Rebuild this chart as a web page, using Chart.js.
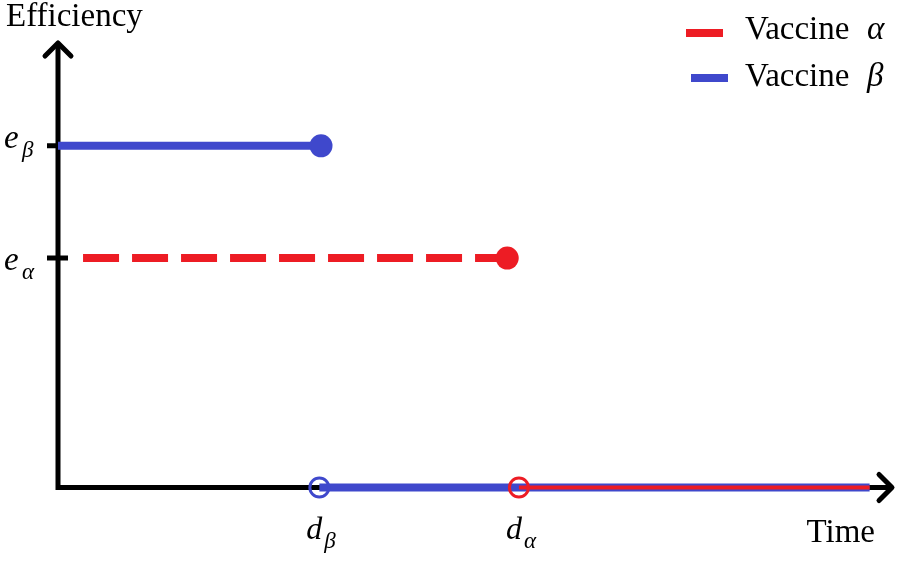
<!DOCTYPE html>
<html lang="en">
<head>
  <meta charset="UTF-8">
  <title>Vaccine efficiency over time</title>
  <script src="https://cdn.jsdelivr.net/npm/chart.js"></script>
  <style>
    body {
      margin: 0;
      background: #ffffff;
    }

    #chart-container {
      width: 910px;
      height: 562px;
    }
  </style>
</head>
<body>
  <div id="chart-container">
    <canvas id="vaccineChart"></canvas>
  </div>

  <script>
    // series names (legend)
    const seriesNames = ['Vaccine', 'Vaccine'];
    const seriesGreek = ['α', 'β'];

    // tick positions + labels, d = duration, e = efficiency
    const xTickValues = [31.3, 55.2];
    const xTickMain = ['d', 'd'];
    const xTickSub = ['β', 'α'];
    const yTickValues = [76.7, 51.5];
    const yTickMain = ['e', 'e'];
    const yTickSub = ['β', 'α'];

    // segments for each vaccine
    const alphaHigh = [{ x: 3.0, y: 51.5 }, { x: 53.8, y: 51.5 }];
    const alphaLow = [{ x: 55.2, y: 0 }, { x: 97.2, y: 0 }];
    const betaHigh = [{ x: 0, y: 76.7 }, { x: 31.5, y: 76.7 }];
    const betaLow = [{ x: 31.3, y: 0 }, { x: 97.2, y: 0 }];

    const axisTitles = ['Time', 'Efficiency'];

    const RED = '#ed1c24';
    const BLUE = '#3f48cc';
    const FONT = "'Liberation Serif', 'DejaVu Serif', serif";

    function drawSubLabel(ctx, main, sub, x, y, mainSize, subSize, subDx, subDy) {
      ctx.font = `italic ${mainSize}px ${FONT}`;
      ctx.fillText(main, x, y);
      ctx.font = `italic ${subSize}px ${FONT}`;
      ctx.fillText(sub, x + subDx, y + subDy);
    }

    const axesPlugin = {
      id: 'arrowAxes',
      beforeDatasetsDraw(chart) {
        const { ctx, chartArea } = chart;
        const x0 = chart.scales.x.getPixelForValue(0);
        const y0 = chart.scales.y.getPixelForValue(0);
        ctx.save();
        ctx.strokeStyle = '#000';
        ctx.lineWidth = 5;
        ctx.lineCap = 'butt';

        // axis lines
        ctx.beginPath();
        ctx.moveTo(x0, y0 + 2.5);
        ctx.lineTo(x0, chartArea.top + 2);
        ctx.moveTo(x0 - 2.5, y0);
        ctx.lineTo(chartArea.right - 2, y0);
        ctx.stroke();

        // arrow heads
        ctx.lineCap = 'round';
        ctx.lineJoin = 'round';
        ctx.beginPath();
        ctx.moveTo(x0 - 13, chartArea.top + 14);
        ctx.lineTo(x0, chartArea.top + 1);
        ctx.lineTo(x0 + 13, chartArea.top + 14);
        ctx.moveTo(chartArea.right - 14, y0 - 13);
        ctx.lineTo(chartArea.right - 1, y0);
        ctx.lineTo(chartArea.right - 14, y0 + 13);
        ctx.stroke();

        // y ticks
        ctx.lineCap = 'butt';
        ctx.beginPath();
        yTickValues.forEach(v => {
          const py = chart.scales.y.getPixelForValue(v);
          ctx.moveTo(x0 - 11, py);
          ctx.lineTo(x0 + 10, py);
        });
        ctx.stroke();
        ctx.restore();
      },
      afterDraw(chart) {
        const { ctx, chartArea } = chart;
        const y0 = chart.scales.y.getPixelForValue(0);
        ctx.save();
        ctx.fillStyle = '#000';
        ctx.textBaseline = 'alphabetic';
        ctx.textAlign = 'left';

        // y tick labels
        const yShift = [2, 12];
        yTickValues.forEach((v, i) => {
          const py = chart.scales.y.getPixelForValue(v);
          drawSubLabel(ctx, yTickMain[i], yTickSub[i], 4, py + yShift[i], 33, 23, 18, 9);
        });

        // x tick labels
        xTickValues.forEach((v, i) => {
          const px = chart.scales.x.getPixelForValue(v);
          drawSubLabel(ctx, xTickMain[i], xTickSub[i], px - 13, y0 + 51, 32, 23, 18, 9);
        });

        // axis titles
        ctx.font = `33px ${FONT}`;
        ctx.textAlign = 'right';
        ctx.fillText(axisTitles[0], chartArea.right - 18, y0 + 54);
        ctx.textAlign = 'left';
        ctx.fillText(axisTitles[1], 6, 26);

        // legend
        const colors = [RED, BLUE];
        const sampleX = [686, 691];
        const rows = [33, 78];
        const baselines = [39, 86];
        seriesNames.forEach((name, i) => {
          ctx.strokeStyle = colors[i];
          ctx.lineWidth = 8;
          ctx.beginPath();
          ctx.moveTo(sampleX[i], rows[i]);
          ctx.lineTo(sampleX[i] + 37, rows[i]);
          ctx.stroke();
          ctx.font = `33px ${FONT}`;
          ctx.fillText(name, 745, baselines[i]);
          ctx.font = `italic 33px ${FONT}`;
          ctx.fillText(seriesGreek[i], 867, baselines[i]);
        });
        ctx.restore();
      }
    };

    const ctx = document.getElementById('vaccineChart').getContext('2d');

    // first dataset ends up on top
    new Chart(ctx, {
      type: 'line',
      data: {
        datasets: [
          {
            label: 'Vaccine α (low)',
            data: alphaLow,
            borderColor: RED,
            borderWidth: 4,
            pointRadius: [9.5, 0],
            pointBackgroundColor: 'rgba(0,0,0,0)',
            pointBorderColor: RED,
            pointBorderWidth: 3,
            clip: false
          },
          {
            label: 'Vaccine β (low)',
            data: betaLow,
            borderColor: BLUE,
            borderWidth: 8,
            pointRadius: [9.5, 0],
            pointBackgroundColor: 'rgba(0,0,0,0)',
            pointBorderColor: BLUE,
            pointBorderWidth: 3,
            clip: false
          },
          {
            label: 'Vaccine α (high)',
            data: alphaHigh,
            borderColor: RED,
            borderWidth: 8,
            borderDash: [36, 13],
            pointRadius: [0, 11.5],
            pointBackgroundColor: RED,
            pointBorderWidth: 0,
            clip: false
          },
          {
            label: 'Vaccine β (high)',
            data: betaHigh,
            borderColor: BLUE,
            borderWidth: 8,
            pointRadius: [0, 11.5],
            pointBackgroundColor: BLUE,
            pointBorderWidth: 0,
            clip: false
          }
        ]
      },
      options: {
        responsive: true,
        maintainAspectRatio: false,
        animation: false,
        layout: {
          padding: { left: 58, top: 42, right: 17, bottom: 74.5 }
        },
        scales: {
          x: { type: 'linear', min: 0, max: 100, display: false },
          y: { type: 'linear', min: 0, max: 100, display: false }
        },
        plugins: {
          legend: { display: false },
          tooltip: { enabled: false }
        },
        elements: {
          line: { tension: 0 }
        }
      },
      plugins: [axesPlugin]
    });
  </script>
</body>
</html>
